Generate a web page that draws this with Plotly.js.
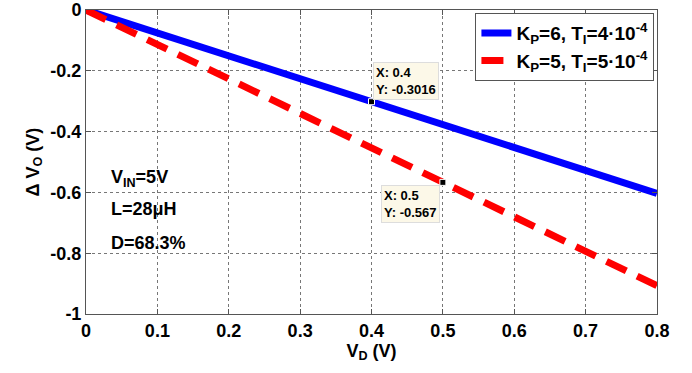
<!DOCTYPE html>
<html>
<head>
<meta charset="utf-8">
<script src="https://cdn.plot.ly/plotly-3.0.1.min.js"></script>
<style>
  html, body { margin: 0; padding: 0; background: #fff; }
  #chart { width: 692px; height: 373px; }
</style>
</head>
<body>
<div id="chart"></div>
<script>
// Diode voltage sweep (V) and resulting output voltage deviation (V)
const vdBlue = [0, 0.4, 0.8];
const dvoBlue = [0, -0.3016, -0.603];
const vdRed = [0, 0.5, 0.8];
const dvoRed = [0, -0.567, -0.907];

// Data-tip points
const tipX = [0.4, 0.5];
const tipY = [-0.3016, -0.567];

const xTicks = [0, 0.1, 0.2, 0.3, 0.4, 0.5, 0.6, 0.7, 0.8];
const yTicks = [0, -0.2, -0.4, -0.6, -0.8, -1];

const FAMILY = 'Arial, Liberation Sans, sans-serif';
const labelFont = { family: FAMILY, size: 18, color: '#000', weight: 'bold' };

const traces = [
  {
    x: vdBlue, y: dvoBlue, mode: 'lines', type: 'scatter',
    name: 'K<sub>P</sub>=6, T<sub>I</sub>=4·10<sup>-4</sup>',
    line: { color: '#0000ff', width: 7 }
  },
  {
    x: vdRed, y: dvoRed, mode: 'lines', type: 'scatter',
    name: 'K<sub>P</sub>=5, T<sub>I</sub>=5·10<sup>-4</sup>',
    line: { color: '#ff0000', width: 7, dash: '22px,12px' }
  },
  {
    x: tipX, y: tipY, mode: 'markers', type: 'scatter', showlegend: false,
    marker: { symbol: 'square', size: 6, color: '#000', line: { color: '#fff', width: 1 } },
    hoverinfo: 'skip'
  }
];

const tipFont = { family: FAMILY, size: 13, color: '#000' };

const layout = {
  width: 692, height: 373,
  margin: { l: 86, r: 35, t: 10, b: 59 },
  paper_bgcolor: '#fff', plot_bgcolor: '#fff',
  font: labelFont,
  xaxis: {
    range: [0, 0.8], tickvals: xTicks, ticktext: xTicks.map(v => String(v)),
    showgrid: true, gridcolor: '#777', griddash: 'dot', gridwidth: 1,
    showline: true, linecolor: '#555', linewidth: 1, mirror: 'ticks',
    ticks: 'inside', ticklen: 5, tickcolor: '#555',
    zeroline: false, tickfont: labelFont,
    title: { text: 'V<sub>D</sub> (V)', font: labelFont, standoff: 2 }
  },
  yaxis: {
    range: [-1, 0], tickvals: yTicks, ticktext: yTicks.map(v => String(v)),
    showgrid: true, gridcolor: '#777', griddash: 'dot', gridwidth: 1,
    showline: true, linecolor: '#555', linewidth: 1, mirror: 'ticks',
    ticks: 'inside', ticklen: 5, tickcolor: '#555',
    zeroline: false, tickfont: labelFont,
    title: { text: 'Δ V<sub>O</sub> (V)', font: labelFont, standoff: 6 }
  },
  showlegend: true,
  legend: {
    x: 0.682, y: 0.99, xanchor: 'left', yanchor: 'top',
    bgcolor: '#fff', bordercolor: '#555', borderwidth: 1,
    font: { family: FAMILY, size: 19, color: '#000', weight: 'bold' },
    itemwidth: 30, tracegroupgap: 10
  },
  annotations: [
    { x: 0.4, y: -0.3016, xref: 'x', yref: 'y', text: 'X: 0.4<br>Y: -0.3016', showarrow: false,
      xanchor: 'left', yanchor: 'bottom', xshift: 1, yshift: 2, align: 'left',
      bgcolor: '#fcf8e8', bordercolor: '#ddd', borderwidth: 1, borderpad: 2, font: tipFont },
    { x: 0.5, y: -0.567, xref: 'x', yref: 'y', text: 'X: 0.5<br>Y: -0.567', showarrow: false,
      xanchor: 'right', yanchor: 'top', xshift: -3, yshift: -3, align: 'left',
      bgcolor: '#fcf8e8', bordercolor: '#ddd', borderwidth: 1, borderpad: 2, font: tipFont },
    { x: 0.032, y: -0.555, xref: 'x', yref: 'y', text: 'V<sub>IN</sub>=5V', showarrow: false,
      xanchor: 'left', yanchor: 'middle', font: labelFont },
    { x: 0.032, y: -0.655, xref: 'x', yref: 'y', text: 'L=28μH', showarrow: false,
      xanchor: 'left', yanchor: 'middle', font: labelFont },
    { x: 0.032, y: -0.765, xref: 'x', yref: 'y', text: 'D=68.3%', showarrow: false,
      xanchor: 'left', yanchor: 'middle', font: labelFont }
  ]
};

Plotly.newPlot('chart', traces, layout, { displayModeBar: false, staticPlot: true });
</script>
</body>
</html>
